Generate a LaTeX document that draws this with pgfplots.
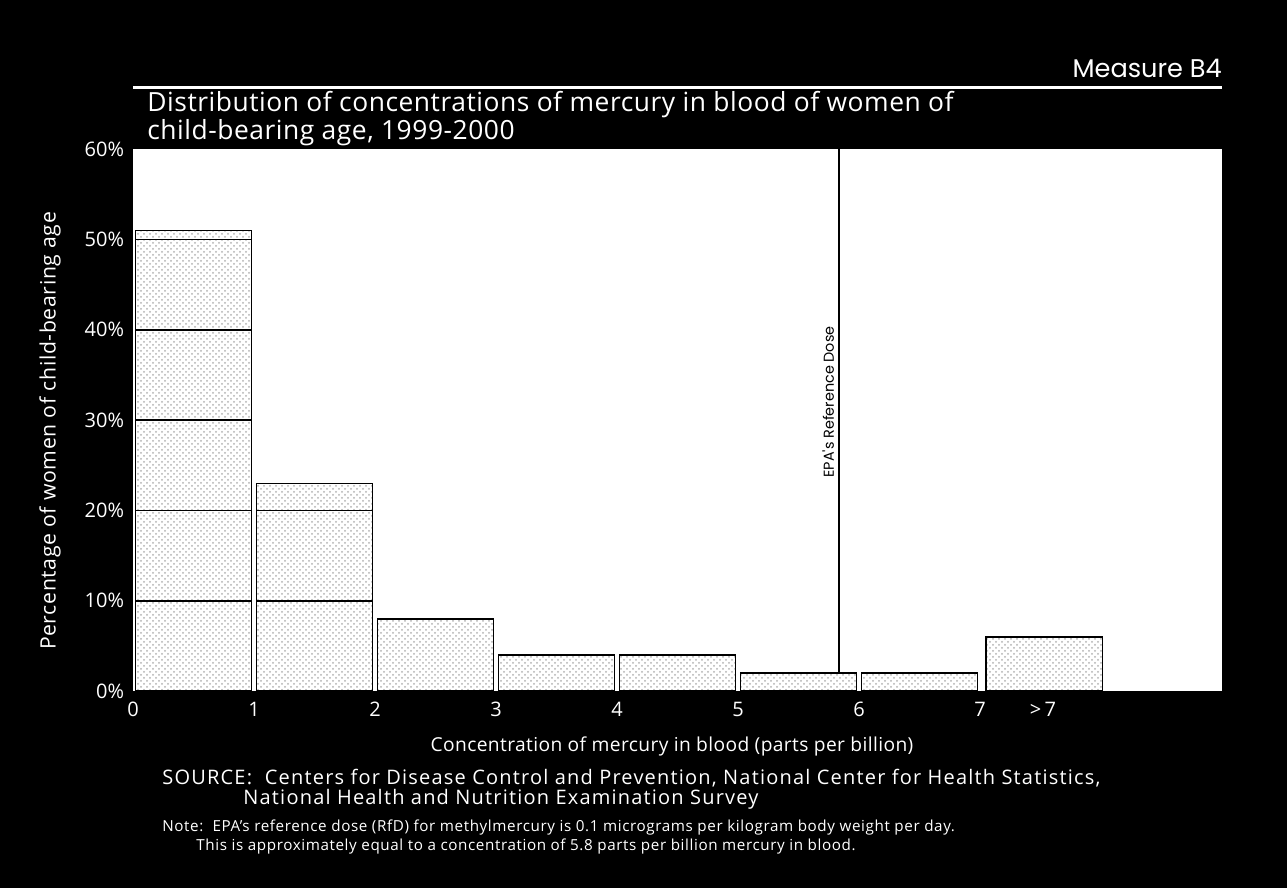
\documentclass[border=0pt]{standalone}
\usepackage{fontspec}
\setmainfont{Open Sans}
\newfontfamily\gothic{Poppins}
\usepackage{pgfplots}
\pgfplotsset{compat=1.18}
\usetikzlibrary{patterns}
\tikzset{hgbar/.style={draw=black,line width=0.8pt,fill=white,postaction={pattern=crosshatch dots,pattern color=gray!60}}}
\begin{document}
\begin{tikzpicture}[x=0.5pt,y=0.5pt]
\fill[black] (0,0) rectangle (1287,888);
\useasboundingbox (0,0) rectangle (1287,888);
\node[anchor=east,text=white,font=\gothic\fontsize{12.8}{14}\selectfont,inner sep=0pt] at (1222,820) {Measure B4};
\draw[white,line width=1.5pt] (133,800) -- (1222,800);
\node[anchor=north west,text=white,align=left,font=\fontsize{13.2}{13}\selectfont\addfontfeatures{LetterSpace=2},inner sep=0pt] at (147,797) {Distribution of concentrations of mercury in blood of women of\\child-bearing age, 1999-2000};
\begin{axis}[
  at={(110,218)}, anchor=south west,
  scale only axis, width=544.5pt, height=271pt,
  xmin=0, xmax=9, ymin=0, ymax=60,
  axis background/.style={fill=white},
  axis line style={draw=none}, tick style={draw=none},
  xtick={0,1,2,3,4,5,6,7,7.52},
  xticklabels={0,1,2,3,4,5,6,7,{>\,7}},
  ytick={0,10,20,30,40,50,60},
  yticklabels={0\%,10\%,20\%,30\%,40\%,50\%,60\%},
  ticklabel style={text=white,font=\fontsize{10}{11}\selectfont},
  xticklabel style={yshift=-2pt},
  yticklabel style={xshift=-1pt},
  /pgf/number format/assume math mode=true,
  ybar stacked, bar width=0.96,
  clip=false,
]
\addplot[hgbar] coordinates {(0.5,10)(1.5,10)(2.5,8)(3.5,4)(4.5,4)(5.5,2)(6.5,2)(7.53,6)};
\addplot[hgbar] coordinates {(0.5,10)(1.5,10)(2.5,0)(3.5,0)(4.5,0)(5.5,0)(6.5,0)(7.53,0)};
\addplot[hgbar] coordinates {(0.5,10)(1.5,3)(2.5,0)(3.5,0)(4.5,0)(5.5,0)(6.5,0)(7.53,0)};
\addplot[hgbar] coordinates {(0.5,10)(1.5,0)(2.5,0)(3.5,0)(4.5,0)(5.5,0)(6.5,0)(7.53,0)};
\addplot[hgbar] coordinates {(0.5,10)(1.5,0)(2.5,0)(3.5,0)(4.5,0)(5.5,0)(6.5,0)(7.53,0)};
\addplot[hgbar] coordinates {(0.5,1)(1.5,0)(2.5,0)(3.5,0)(4.5,0)(5.5,0)(6.5,0)(7.53,0)};
\pgfplotsextra{\draw[black, line width=1pt] (axis cs:5.83,0) -- (axis cs:5.83,60);}
\node[rotate=90,anchor=south,font=\gothic\fontsize{7.2}{8}\selectfont,inner sep=2pt] at (axis cs:5.83,32) {EPA's Reference Dose};
\end{axis}
\node[rotate=90,text=white,font=\fontsize{10.6}{12}\selectfont\addfontfeatures{LetterSpace=3},inner sep=0pt] at (50,457) {Percentage of women of child-bearing age};
\node[text=white,font=\fontsize{9.6}{11}\selectfont\addfontfeatures{LetterSpace=2},inner sep=0pt] at (672,142) {Concentration of mercury in blood (parts per billion)};
\node[anchor=west,text=white,font=\fontsize{10}{11}\selectfont\addfontfeatures{LetterSpace=6},inner sep=0pt] at (162,110) {SOURCE:\ \ Centers for Disease Control and Prevention, National Center for Health Statistics,};
\node[anchor=west,text=white,font=\fontsize{10}{11}\selectfont\addfontfeatures{LetterSpace=6},inner sep=0pt] at (243,89) {National Health and Nutrition Examination Survey};
\node[anchor=west,text=white,font=\fontsize{7.6}{8}\selectfont\addfontfeatures{LetterSpace=4},inner sep=0pt] at (162,60) {Note:\ \ EPA's reference dose (RfD) for methylmercury is 0.1 micrograms per kilogram body weight per day.};
\node[anchor=west,text=white,font=\fontsize{7.6}{8}\selectfont\addfontfeatures{LetterSpace=4},inner sep=0pt] at (196,41) {This is approximately equal to a concentration of 5.8 parts per billion mercury in blood.};
\end{tikzpicture}
\end{document}
